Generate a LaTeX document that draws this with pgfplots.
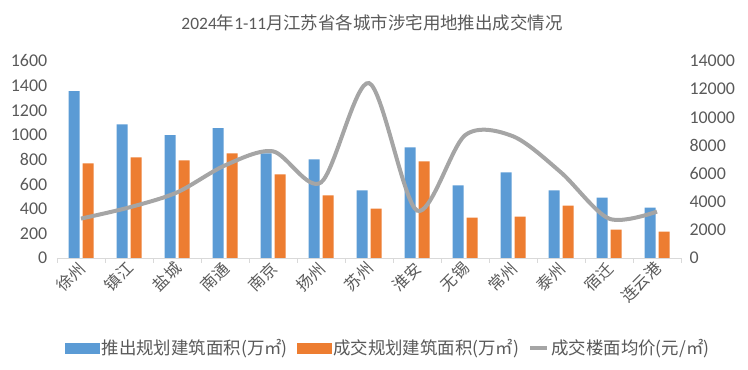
\documentclass[border=0pt]{standalone}
\usepackage{pgfplots}
\pgfplotsset{compat=1.18}
\usepackage{fontspec}
\setmainfont{Carlito}
\newfontfamily\cjk{Noto Sans CJK SC}
\definecolor{barblue}{HTML}{5B9BD5}
\definecolor{barorange}{HTML}{ED7D31}
\definecolor{linegray}{HTML}{A5A5A5}
\definecolor{txtgray}{HTML}{595959}
\definecolor{axgray}{HTML}{D9D9D9}
\begin{document}
\begin{tikzpicture}
\useasboundingbox (0,0) rectangle (748bp,370bp);
\node[font=\fontsize{17.5}{20}\selectfont, text=txtgray] at (372bp,347bp) {2024{\cjk 年}1-11{\cjk 月江苏省各城市涉宅用地推出成交情况}};
\begin{axis}[
  at={(57bp,112bp)}, anchor=south west, scale only axis,
  width=624bp, height=197bp,
  xmin=-0.5, xmax=12.5, ymin=0, ymax=1600,
  ytick={0,200,...,1600},
  axis x line*=bottom, axis y line*=left,
  x axis line style={draw=axgray, line width=0.8bp, -},
  y axis line style={draw=none},
  xtick={0,...,12},
  xticklabels={徐州,镇江,盐城,南通,南京,扬州,苏州,淮安,无锡,常州,泰州,宿迁,连云港},
  major x tick style={draw=none},
  minor xtick={-0.5,0.5,...,12.5},
  minor x tick style={draw=axgray, line width=0.8bp},
  minor tick length=5bp,
  tick align=outside,
  ytick style={draw=none},
  xticklabel style={rotate=45, anchor=east, font=\cjk\fontsize{16}{18}\selectfont, text=txtgray, xshift=2bp, yshift=-3bp},
  yticklabel style={font=\fontsize{18}{20}\selectfont, text=txtgray, xshift=-2bp},
  scaled y ticks=false,
  /pgf/number format/assume math mode=true,
  /pgf/number format/1000 sep={},
  ybar=3bp, bar width=11bp,
  clip=false,
]
\addplot[fill=barblue, draw=none] coordinates {
(0,1355) (1,1086) (2,997) (3,1054) (4,850) (5,801) (6,549) (7,899) (8,589) (9,695) (10,549) (11,491) (12,410)};
\addplot[fill=barorange, draw=none] coordinates {
(0,768) (1,817) (2,793) (3,850) (4,679) (5,508) (6,402) (7,785) (8,328) (9,337) (10,426) (11,231) (12,214)};
\end{axis}
\begin{axis}[
  at={(57bp,112bp)}, anchor=south west, scale only axis,
  width=624bp, height=197bp,
  xmin=-0.5, xmax=12.5, ymin=0, ymax=14000,
  ytick={0,2000,...,14000},
  axis y line*=right, axis x line=none,
  y axis line style={draw=none},
  ytick style={draw=none},
  scaled y ticks=false,
  yticklabel style={font=\fontsize{18}{20}\selectfont, text=txtgray, anchor=west, xshift=5bp},
  /pgf/number format/assume math mode=true,
  /pgf/number format/1000 sep={},
  legend style={at={(0.531,-0.457)}, anchor=center, draw=none, legend columns=3,
    font=\cjk\fontsize{17.5}{19}\selectfont, text=txtgray,
    /tikz/every even column/.append style={column sep=7bp}},
  legend cell align=left,
]
\addlegendimage{legend image code/.code={\fill[barblue] (0bp,-5bp) rectangle (34bp,5bp);}}
\addlegendentry{推出规划建筑面积(万㎡)}
\addlegendimage{legend image code/.code={\fill[barorange] (0bp,-5bp) rectangle (34bp,5bp);}}
\addlegendentry{成交规划建筑面积(万㎡)}
\addplot[color=linegray, line width=4bp, smooth, no markers] coordinates {
(0,2800) (1,3590) (2,4660) (3,6580) (4,7580) (5,5370) (6,12430) (7,3370) (8,8720) (9,8650) (10,6080) (11,2800) (12,3300)};
\addlegendentry{成交楼面均价(元/㎡)}
\end{axis}
\end{tikzpicture}
\end{document}
